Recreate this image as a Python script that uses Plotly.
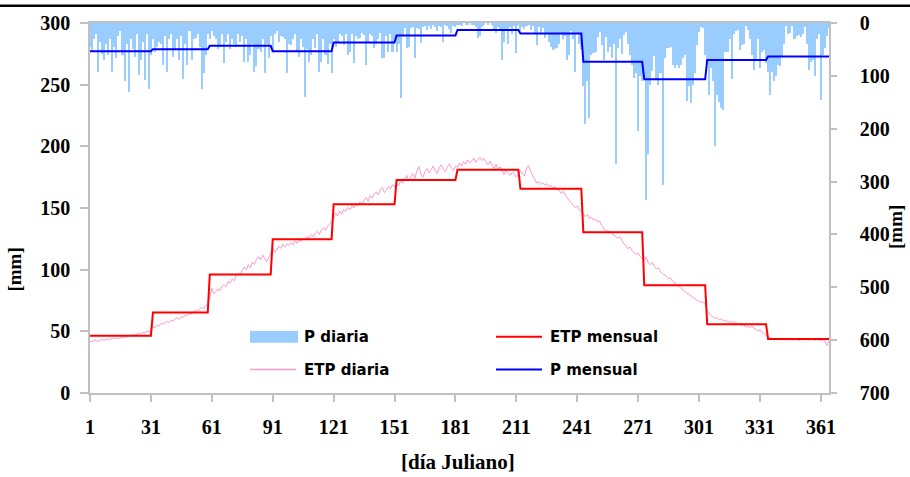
import numpy as np
import plotly.graph_objects as go

# ---- data -------------------------------------------------------------
month_days = [31, 28, 31, 30, 31, 30, 31, 31, 30, 31, 30, 31]

# monthly potential evapotranspiration [mm] (left axis)
etp_monthly = [46.5, 65.2, 96.0, 124.7, 153.0, 172.7, 181.0, 165.7, 130.3, 87.4, 55.8, 43.7]

# monthly precipitation [mm] (right axis, reversed)
p_monthly = [53.3, 49.5, 43.2, 53.3, 37.0, 23.8, 13.2, 20.0, 73.2, 106.4, 70.0, 63.2]

# daily potential evapotranspiration [mm], one list per month
etp_jan = [42.0, 41.5, 43.0, 42.2, 41.8, 42.9, 43.5, 42.7, 43.8, 42.9, 43.6, 44.5, 43.9, 44.8, 44.1, 45.0,
           44.6, 45.8, 45.2, 46.5, 46.0, 47.2, 46.8, 47.9, 48.5, 47.8, 49.2, 48.6, 50.1, 49.5, 51.0]
etp_feb = [53.5, 52.8, 55.0, 54.2, 56.5, 55.8, 57.2, 58.0, 57.1, 59.0, 58.3, 60.2, 61.0, 59.8, 62.0, 61.2,
           63.5, 62.8, 64.6, 63.9, 66.2, 67.0, 65.8, 68.3, 69.5, 68.2, 71.0, 72.4]
etp_mar = [77.0, 85.0, 80.5, 82.0, 84.5, 83.0, 86.5, 88.0, 86.2, 90.5, 89.0, 92.5, 91.0, 94.8, 97.0, 95.2,
           99.5, 102.0, 100.0, 104.0, 101.5, 106.0, 104.2, 108.5, 110.5, 107.8, 112.0, 109.5, 106.5, 110.0, 112.5]
etp_apr = [117.5, 114.0, 116.0, 119.0, 117.2, 120.5, 118.5, 121.0, 119.5, 122.0, 120.0, 123.5, 121.5, 124.0,
           122.8, 125.5, 124.0, 127.0, 125.5, 128.5, 126.8, 129.5, 131.0, 128.5, 132.5, 134.0, 131.8, 135.5,
           137.0, 138.5]
etp_may = [142.0, 146.0, 143.5, 147.5, 145.0, 148.8, 147.0, 150.5, 148.5, 152.0, 150.0, 153.5, 151.8, 155.0,
           153.0, 156.5, 158.5, 155.5, 160.0, 158.0, 161.5, 163.0, 160.5, 165.0, 166.5, 162.5, 164.5, 167.5,
           165.5, 169.0, 167.0]
etp_jun = [170.5, 168.0, 172.5, 170.0, 174.0, 176.5, 172.0, 175.5, 178.0, 174.0, 180.0, 183.5, 177.5, 175.0,
           179.5, 182.0, 178.5, 181.0, 184.0, 180.5, 178.0, 182.5, 185.0, 181.5, 179.5, 183.0, 186.0, 182.5,
           180.5, 184.0]
etp_jul = [183.0, 186.5, 184.0, 187.5, 185.5, 189.0, 186.5, 188.0, 190.5, 187.0, 189.5, 191.0, 188.5, 190.0,
           187.5, 185.0, 188.0, 184.5, 182.0, 185.5, 181.0, 183.5, 179.5, 177.0, 180.5, 178.0, 176.5, 179.0,
           177.5, 175.0, 178.0]
etp_aug = [180.5, 178.0, 176.0, 182.5, 184.5, 180.0, 176.5, 172.5, 170.0, 171.5, 169.0, 170.5, 168.5, 169.8,
           167.5, 168.5, 166.5, 167.0, 165.0, 164.5, 162.0, 163.5, 160.5, 158.5, 156.0, 154.5, 152.0, 150.5,
           151.5, 148.5, 147.0]
etp_sep = [145.5, 143.0, 144.5, 141.5, 142.5, 140.0, 141.0, 138.5, 139.5, 136.0, 133.5, 131.0, 132.0, 129.5,
           130.5, 128.0, 127.0, 125.5, 126.5, 123.5, 121.0, 119.5, 117.0, 118.5, 115.5, 114.0, 112.5, 113.5,
           110.5, 109.0]
etp_oct = [107.5, 110.5, 105.5, 104.0, 106.0, 102.5, 100.5, 101.5, 98.5, 97.0, 96.0, 94.5, 92.5, 93.5, 90.5,
           89.5, 88.0, 86.5, 85.0, 84.0, 82.5, 81.0, 80.0, 78.5, 77.5, 76.5, 75.0, 74.5, 73.5, 74.0, 72.0]
etp_nov = [66.5, 64.0, 62.5, 61.5, 60.5, 61.0, 59.5, 60.0, 58.5, 59.0, 58.0, 57.0, 58.0, 56.5, 57.5, 55.5,
           56.0, 54.5, 55.5, 53.5, 54.0, 53.0, 54.5, 52.5, 51.5, 50.5, 51.0, 49.5, 48.0, 47.0]
etp_dec = [45.5, 44.5, 43.5, 44.0, 43.0, 43.8, 43.2, 44.2, 43.0, 43.5, 42.8, 43.6, 43.0, 44.0, 43.2, 42.6,
           43.4, 44.2, 43.0, 43.5, 42.8, 43.6, 43.1, 42.7, 43.5, 43.0, 42.5, 43.3, 42.0, 38.5, 42.5]

# daily precipitation [mm], one list per month
p_jan = [45, 55, 30, 20, 92, 35, 58, 70, 40, 60, 30, 92, 45, 66, 25, 15, 60, 110, 40, 130, 30, 50, 65, 20,
         98, 70, 35, 108, 20, 125, 60]
p_feb = [30, 55, 45, 35, 40, 80, 25, 92, 30, 20, 65, 50, 30, 70, 25, 105, 40, 80, 15, 70, 30, 28, 20, 45,
         125, 95, 60, 20]
p_mar = [30, 15, 25, 30, 50, 45, 20, 76, 35, 20, 50, 30, 40, 45, 20, 36, 25, 73, 30, 73, 60, 40, 92, 82,
         50, 55, 30, 95, 40, 67, 25]
p_apr = [55, 20, 15, 36, 25, 27, 30, 95, 40, 42, 30, 20, 55, 64, 30, 45, 140, 50, 73, 60, 30, 48, 20, 92,
         73, 30, 60, 78, 40, 95]
p_may = [30, 45, 38, 20, 25, 42, 20, 61, 55, 20, 76, 25, 30, 28, 18, 22, 79, 35, 20, 25, 48, 40, 30, 18,
         67, 67, 25, 55, 20, 55, 30]
p_jun = [55, 40, 142, 22, 10, 48, 45, 10, 8, 67, 10, 12, 38, 8, 5, 14, 5, 12, 4, 8, 16, 5, 8, 35, 4, 6,
         12, 18, 5, 8]
p_jul = [3, 2, 5, 0, 3, 2, 0, 4, 3, 8, 29, 25, 8, 2, 0, 3, 0, 2, 12, 18, 8, 12, 70, 35, 12, 39, 8, 20, 5,
         57, 3]
p_aug = [15, 8, 12, 5, 3, 14, 5, 20, 42, 8, 20, 10, 28, 18, 35, 45, 51, 50, 48, 40, 20, 30, 25, 70, 60,
         15, 30, 92, 20, 40, 50]
p_sep = [120, 192, 110, 179, 60, 57, 54, 26, 17, 42, 70, 26, 55, 45, 67, 40, 267, 48, 30, 58, 22, 17, 40,
         60, 80, 104, 95, 204, 100, 110]
p_oct = [105, 334, 248, 117, 90, 62, 105, 117, 95, 307, 66, 48, 48, 45, 80, 86, 80, 86, 80, 67, 60, 148,
         120, 151, 117, 95, 42, 17, 8, 10, 60]
p_nov = [80, 136, 86, 110, 232, 136, 150, 161, 165, 55, 55, 30, 106, 20, 15, 14, 51, 42, 40, 5, 14, 30,
         60, 89, 70, 30, 86, 55, 52, 75]
p_dec = [92, 136, 92, 110, 101, 80, 82, 62, 40, 5, 20, 18, 5, 30, 25, 22, 26, 20, 8, 40, 89, 73, 70, 101,
         30, 20, 145, 60, 48, 25, 10]

x_ticks = [1, 31, 61, 91, 121, 151, 181, 211, 241, 271, 301, 331, 361]

# ---- assemble series --------------------------------------------------
etp_daily = (etp_jan + etp_feb + etp_mar + etp_apr + etp_may + etp_jun +
             etp_jul + etp_aug + etp_sep + etp_oct + etp_nov + etp_dec)
p_daily = (p_jan + p_feb + p_mar + p_apr + p_may + p_jun +
           p_jul + p_aug + p_sep + p_oct + p_nov + p_dec)
days = list(range(1, len(p_daily) + 1))
etp_month_series = np.repeat(etp_monthly, month_days)
p_month_series = np.repeat(p_monthly, month_days)

BAR_BLUE = "#99ccff"
PINK = "#ff99cc"
RED = "#ff0000"
BLUE = "#0000ff"
AXIS_GREY = "#c0c0c0"

fig = go.Figure()
fig.add_trace(go.Scatter(x=days, y=etp_daily, mode="lines", name="ETP diaria",
                         line=dict(color=PINK, width=1), yaxis="y"))
fig.add_trace(go.Scatter(x=days, y=etp_month_series, mode="lines", name="ETP mensual",
                         line=dict(color=RED, width=2), yaxis="y"))
fig.add_trace(go.Bar(x=days, y=p_daily, name="P diaria", marker=dict(color=BAR_BLUE, line=dict(width=0)),
                     yaxis="y2"))
fig.add_trace(go.Scatter(x=days, y=p_month_series, mode="lines", name="P mensual",
                         line=dict(color=BLUE, width=2), yaxis="y2"))

tick_font = dict(family="Liberation Serif", size=20, color="black", weight="bold")

fig.update_layout(
    width=910, height=477,
    margin=dict(l=90, r=81, t=19, b=84),
    paper_bgcolor="white", plot_bgcolor="white",
    showlegend=False, bargap=0,
    xaxis=dict(range=[1, 365], tickvals=x_ticks, ticks="outside", ticklen=7, tickwidth=1.5,
               tickcolor=AXIS_GREY, showline=True, linecolor=AXIS_GREY, linewidth=1.5, mirror=True,
               showgrid=False, zeroline=False, tickfont=tick_font, ticklabelstandoff=8),
    yaxis=dict(range=[0, 300], dtick=50, ticks="outside", ticklen=8, tickwidth=1.5,
               tickcolor=AXIS_GREY, showline=True, linecolor=AXIS_GREY, linewidth=1.5,
               showgrid=False, zeroline=False, tickfont=tick_font, ticklabelstandoff=6),
    yaxis2=dict(range=[700, 0], dtick=100, overlaying="y", side="right", ticks="outside", ticklen=6,
                tickwidth=1.5, tickcolor=AXIS_GREY, showline=True, linecolor=AXIS_GREY, linewidth=1.5,
                showgrid=False, zeroline=False, tickfont=tick_font, ticklabelstandoff=19),
)

# pixel helpers for the plot area (left 90, top 19, width 739, height 373.7)
PL, PT, PW, PH = 90.0, 19.0, 739.0, 373.7


def px(x):
    return (x - PL) / PW


def py(y):
    return (PT + PH - y) / PH


title_font = dict(family="Liberation Serif", size=21, color="black", weight="bold")
side_title_font = dict(family="Liberation Serif", size=19, color="black", weight="bold")
annotations = [
    dict(text="[día Juliano]", x=px(458), y=py(462), xref="paper", yref="paper",
         xanchor="center", yanchor="middle", showarrow=False, font=title_font),
    dict(text="[mm]", x=px(15), y=py(268), xref="paper", yref="paper", textangle=-90,
         xanchor="center", yanchor="middle", showarrow=False, font=side_title_font),
    dict(text="[mm]", x=px(896), y=py(225), xref="paper", yref="paper", textangle=-90,
         xanchor="center", yanchor="middle", showarrow=False, font=side_title_font),
]

# legend drawn as shapes + labels in two columns
legend_font = dict(family="DejaVu Sans", size=15, color="black", weight="bold")
legend_items = [
    ("P diaria", "bar", BAR_BLUE, 250, 336),
    ("ETP diaria", "line1", PINK, 250, 369),
    ("ETP mensual", "line2", RED, 496, 336),
    ("P mensual", "line2", BLUE, 496, 369),
]
shapes = []
for label, kind, color, x0, yc in legend_items:
    if kind == "bar":
        shapes.append(dict(type="rect", xref="paper", yref="paper", x0=px(x0), x1=px(x0 + 48),
                           y0=py(yc + 6), y1=py(yc - 6), fillcolor=color, line=dict(width=0)))
    else:
        shapes.append(dict(type="line", xref="paper", yref="paper", x0=px(x0), x1=px(x0 + 46),
                           y0=py(yc), y1=py(yc), line=dict(color=color, width=1.5 if kind == "line1" else 2)))
    annotations.append(dict(text=label, x=px(x0 + 52), y=py(yc), xref="paper", yref="paper",
                            xanchor="left", yanchor="middle", showarrow=False, font=legend_font))

# thin black rule along the top edge of the figure
shapes.append(dict(type="line", xref="paper", yref="paper", x0=px(0), x1=px(910), y0=py(1.5), y1=py(1.5),
                   line=dict(color="black", width=2.5)))

fig.update_layout(annotations=annotations, shapes=shapes)
fig.write_html("out.html")
